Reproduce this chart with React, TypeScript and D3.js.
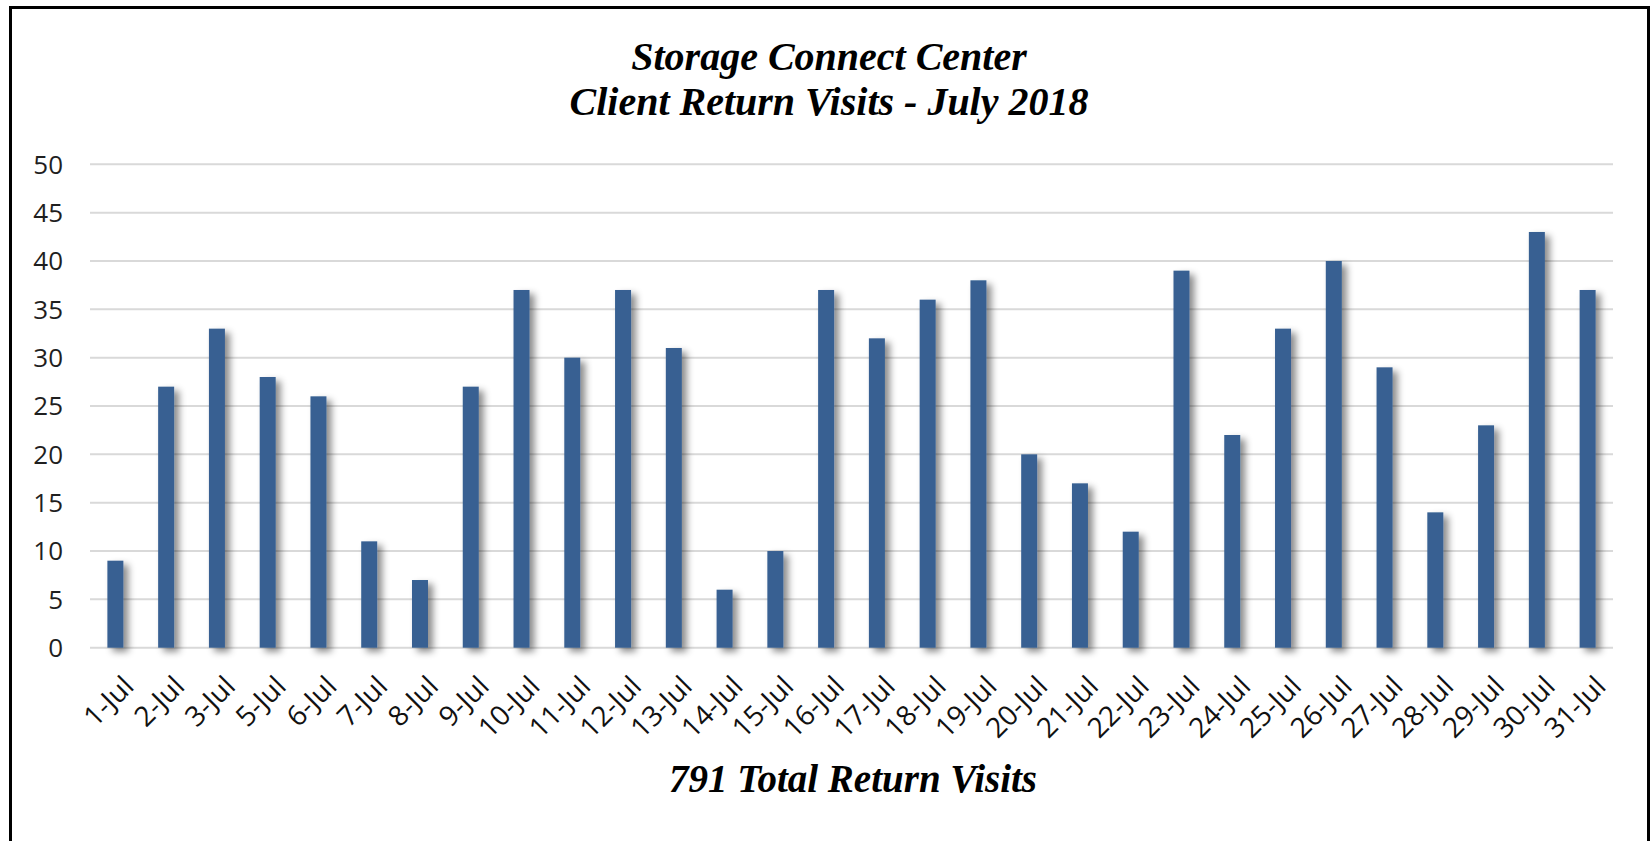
import React from "react";
import * as d3 from "d3";

const categories = ["1-Jul","2-Jul","3-Jul","5-Jul","6-Jul","7-Jul","8-Jul","9-Jul","10-Jul","11-Jul","12-Jul","13-Jul","14-Jul","15-Jul","16-Jul","17-Jul","18-Jul","19-Jul","20-Jul","21-Jul","22-Jul","23-Jul","24-Jul","25-Jul","26-Jul","27-Jul","28-Jul","29-Jul","30-Jul","31-Jul"];
const visits = [9,27,33,28,26,11,7,27,37,30,37,31,6,10,37,32,36,38,20,17,12,39,22,33,40,29,14,23,43,37];
const yTicks = [0,5,10,15,20,25,30,35,40,45,50];
const titleLines = ["Storage Connect Center", "Client Return Visits - July 2018"];
const footer = "791 Total Return Visits";

const W = 1652, H = 841;
const plotL = 90, plotR = 1613, plotT = 164.3, plotB = 647.7;

export default function App() {
  const x = d3.scaleBand<string>().domain(categories).range([plotL, plotR]).padding(0);
  const y = d3.scaleLinear().domain([0, 50]).range([plotB, plotT]);
  const bw = x.bandwidth();
  const barW = bw * 0.315;
  return (
    <svg width={W} height={H} style={{ position: "absolute", left: 0, top: 0, background: "#fff" }}>
      <defs>
        <filter id="sh" x="-50%" y="-10%" width="250%" height="130%">
          <feDropShadow dx="5" dy="4" stdDeviation="3.5" floodColor="#000" floodOpacity="0.45" />
        </filter>
      </defs>
      <rect x={0} y={0} width={W} height={H} fill="#fff" />
      <rect x={10.5} y={7.5} width={1638} height={900} fill="none" stroke="#000" strokeWidth={3} />
      {titleLines.map((t, i) => (
        <text key={t} x={829} y={i === 0 ? 70 : 115} textAnchor="middle"
          fontFamily="'Liberation Serif', 'Times New Roman', serif" fontStyle="italic" fontWeight="bold"
          fontSize={40} fill="#000">{t}</text>
      ))}
      {yTicks.map(t => (
        <g key={t}>
          <line x1={plotL} x2={plotR} y1={y(t)} y2={y(t)} stroke="#d9d9d9" strokeWidth={2} />
          <text x={63} y={y(t)} dy="0.36em" textAnchor="end" fontFamily="'Open Sans', sans-serif"
            fontSize={26} fill="#1f1f1f">{t}</text>
        </g>
      ))}
      {categories.map((c, i) => {
        const cx = (x(c) as number) + bw / 2;
        return (
          <rect key={c} x={cx - barW / 2} y={y(visits[i])} width={barW} height={plotB - y(visits[i])}
            fill="#376092" filter="url(#sh)" />
        );
      })}
      {categories.map(c => {
        const cx = (x(c) as number) + bw / 2;
        const ax = cx + 20, ay = 688;
        return (
          <text key={c} x={ax} y={ay} textAnchor="end" transform={`rotate(-45 ${ax} ${ay})`}
            fontFamily="'Open Sans', sans-serif" fontSize={28} fill="#111">{c}</text>
        );
      })}
      <text x={853} y={792} textAnchor="middle"
        fontFamily="'Liberation Serif', 'Times New Roman', serif" fontStyle="italic" fontWeight="bold"
        fontSize={39} fill="#000">{footer}</text>
    </svg>
  );
}
